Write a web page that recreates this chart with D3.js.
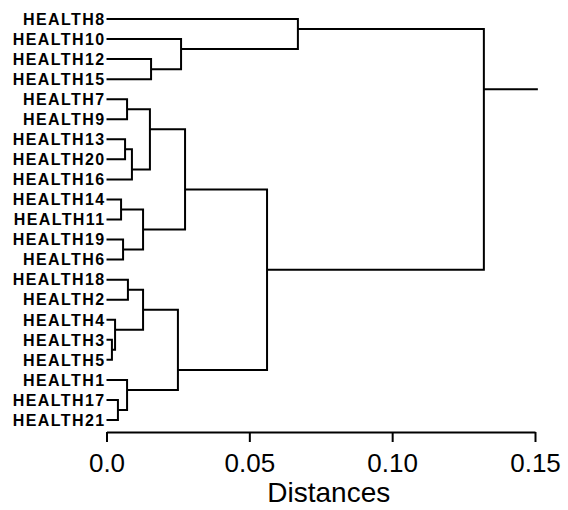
<!DOCTYPE html>
<html lang="en">
<head>
    <meta charset="UTF-8">
    <title>Dendrogram - Distances</title>
    <style>
        body { margin: 0; background: #fff; }
        .link { fill: none; stroke: #000; stroke-width: 2px; }
        .leaf-label { font-family: "Liberation Sans", Arial, sans-serif; font-weight: bold; font-size: 16px; letter-spacing: 1.4px; }
        .axis path, .axis line { stroke: #000; stroke-width: 2px; }
        .axis text { font-family: "Liberation Sans", Arial, sans-serif; font-size: 26px; fill: #000; }
        .axis-title { font-family: "Liberation Sans", Arial, sans-serif; font-size: 28px; }
    </style>
</head>
<body>
    <svg width="568" height="510"></svg>
    <script src="https://d3js.org/d3.v7.min.js"></script>
    <script>
        // Leaf order, top to bottom
        const leaves = ["HEALTH8", "HEALTH10", "HEALTH12", "HEALTH15", "HEALTH7", "HEALTH9",
            "HEALTH13", "HEALTH20", "HEALTH16", "HEALTH14", "HEALTH11", "HEALTH19", "HEALTH6",
            "HEALTH18", "HEALTH2", "HEALTH4", "HEALTH3", "HEALTH5", "HEALTH1", "HEALTH17", "HEALTH21"];

        // Joins: [upper child, lower child, distance]; "n<i>" refers to join i
        const joins = [
            ["HEALTH3", "HEALTH5", 0.0019],
            ["HEALTH4", "n0", 0.0030],
            ["HEALTH17", "HEALTH21", 0.0040],
            ["HEALTH14", "HEALTH11", 0.0051],
            ["HEALTH19", "HEALTH6", 0.0058],
            ["HEALTH13", "HEALTH20", 0.0065],
            ["HEALTH7", "HEALTH9", 0.0072],
            ["HEALTH1", "n2", 0.0072],
            ["HEALTH18", "HEALTH2", 0.0075],
            ["n5", "HEALTH16", 0.0089],
            ["n6", "n9", 0.0152],
            ["HEALTH12", "HEALTH15", 0.0156],
            ["n3", "n4", 0.0128],
            ["n8", "n1", 0.0128],
            ["n13", "n7", 0.0250],
            ["HEALTH10", "n11", 0.0261],
            ["n10", "n12", 0.0275],
            ["n16", "n14", 0.0562],
            ["HEALTH8", "n15", 0.0670],
            ["n18", "n17", 0.1321]
        ];
        const rootEnd = 0.151;

        const tickValues = [0, 0.05, 0.10, 0.15];
        const tickLabels = ["0.0", "0.05", "0.10", "0.15"];
        const axisTitle = "Distances";

        const svg = d3.select("svg");

        const x = d3.scaleLinear().domain([0, 0.15]).range([106.5, 535]);
        const y = d3.scaleLinear().domain([0, leaves.length - 1]).range([19, 420]);

        // node info: first/last leaf index, position (in leaf units), height
        const nodes = {};
        leaves.forEach(function(name, i) {
            nodes[name] = { first: i, last: i, pos: i, h: 0 };
        });
        joins.forEach(function(j, i) {
            const a = nodes[j[0]], b = nodes[j[1]];
            nodes["n" + i] = {
                first: Math.min(a.first, b.first),
                last: Math.max(a.last, b.last),
                // the join sits between the two neighbouring leaves of its children
                pos: (a.last + b.first) / 2,
                h: j[2]
            };
        });

        const tree = svg.append("g");

        joins.forEach(function(j, i) {
            const a = nodes[j[0]], b = nodes[j[1]], n = nodes["n" + i];
            const path = d3.path();
            path.moveTo(x(a.h), y(a.pos));
            path.lineTo(x(n.h), y(a.pos));
            path.lineTo(x(n.h), y(b.pos));
            path.lineTo(x(b.h), y(b.pos));
            tree.append("path").attr("class", "link").attr("d", path.toString());
        });

        const root = nodes["n" + (joins.length - 1)];
        tree.append("line").attr("class", "link")
            .attr("x1", x(root.h)).attr("x2", x(rootEnd))
            .attr("y1", y(root.pos)).attr("y2", y(root.pos));

        // leaf labels
        svg.append("g").selectAll("text")
            .data(leaves)
            .enter().append("text")
            .attr("class", "leaf-label")
            .attr("x", x(0) - 1)
            .attr("y", function(d, i) { return y(i); })
            .attr("dy", "0.36em")
            .attr("text-anchor", "end")
            .text(function(d) { return d; });

        // axis
        const axis = svg.append("g")
            .attr("class", "axis")
            .attr("transform", "translate(0,432)")
            .call(d3.axisBottom(x)
                .tickValues(tickValues)
                .tickFormat(function(d, i) { return tickLabels[i]; })
                .tickSize(10)
                .tickSizeOuter(0)
                .tickPadding(12));
        axis.select(".domain").attr("stroke-width", 2);

        svg.append("text")
            .attr("class", "axis-title")
            .attr("x", (x.range()[0] + x.range()[1]) / 2 + 8)
            .attr("y", 502)
            .attr("text-anchor", "middle")
            .text(axisTitle);
    </script>
</body>
</html>
